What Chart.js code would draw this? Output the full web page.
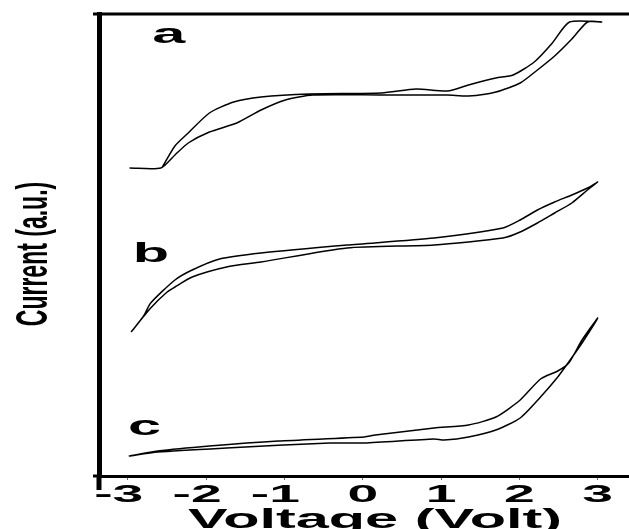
<!DOCTYPE html>
<html>
<head>
<meta charset="utf-8">
<title>Current vs Voltage</title>
<script src="https://cdn.jsdelivr.net/npm/chart.js@4.4.0/dist/chart.umd.min.js"></script>
<style>
  html, body { margin: 0; padding: 0; background: #fff; }
  canvas { display: block; }
</style>
</head>
<body>
<canvas id="chart" width="629" height="529"></canvas>
<script>
// Voltage axis ticks
const voltTicks = [-3, -2, -1, 0, 1, 2, 3];

// Curve a (one closed sweep)
const voltA = [-2.98, -2.58, -2.40, -2.23, -1.96, -1.61, -1.30, -0.99, -0.64, 0.24, 1.08, 1.35, 1.70, 2.01, 2.23, 2.45, 2.67, 2.87, 3.05,
               2.64, 2.41, 2.19, 1.92, 1.70, 1.35, 1.08, 0.68, 0.24, -0.68, -1.30, -1.65, -1.96, -2.23, -2.40, -2.56];
const currentA = [308, 308, 321, 333, 344, 353, 366, 376, 381, 381, 381, 380, 384, 393, 406, 420, 437, 454, 454,
                  454, 432, 414, 401, 398, 391, 385, 387, 383, 382, 379, 374, 363, 343, 330, 309];

// Curve b
const voltB = [-2.96, -2.80, -2.71, -2.40, -2.18, -1.83, -1.30, -0.20, 0.91, 1.79, 2.01, 2.23, 2.45, 2.67, 2.87, 3.00,
               2.87, 2.67, 2.45, 2.23, 2.01, 1.79, 0.91, -0.20, -1.30, -1.74, -2.18, -2.40, -2.50, -2.71, -2.96];
const currentB = [144, 160, 173, 196, 206, 217, 223, 231, 238, 248, 256, 266, 274, 281, 288, 294,
                  286, 273, 263, 253, 244, 238, 231, 228, 214, 209, 199, 189, 184, 168, 144];

// Curve c
const voltC = [-2.99, -2.62, -1.96, -1.08, 0.02, 0.16, 0.91, 1.35, 1.70, 2.01, 2.27, 2.49, 2.63, 2.80, 3.00,
               2.80, 2.63, 2.49, 2.27, 2.01, 1.70, 1.35, 1.04, 0.91, 0.02, -0.42, -1.74, -2.62, -2.99];
const currentC = [20, 25, 30, 35, 39, 41, 48, 51, 59, 76, 97, 105, 113, 136, 158,
                  133, 114, 99, 79, 58, 46, 39, 36, 37, 33, 33, 28, 24, 20];

// Panel letters and where they sit (data coords)
const panelLabels = ['a', 'b', 'c'];
const panelVolt = [-2.69, -2.94, -3.0];
const panelCurrent = [433, 214, 41];

const xTitle = 'Voltage (Volt)';
const yTitle = 'Current (a.u.)';

const FONT = "'Liberation Sans', Arial, sans-serif";

function toPoints(xs, ys) {
  return xs.map((x, i) => ({ x: x, y: ys[i] }));
}

// draw text stretched horizontally (the figure is stretched sideways)
function wideText(ctx, text, x, y, sx, align) {
  ctx.save();
  ctx.translate(x, y);
  ctx.scale(sx, 1);
  ctx.textAlign = align || 'left';
  ctx.textBaseline = 'alphabetic';
  ctx.fillText(text, 0, 0);
  ctx.restore();
}

const figureText = {
  id: 'figureText',
  afterDraw(chart) {
    const ctx = chart.ctx;
    const xs = chart.scales.x;
    const ys = chart.scales.y;
    const area = chart.chartArea;

    ctx.save();
    ctx.fillStyle = '#000';
    ctx.strokeStyle = '#000';

    // frame bits: top line, small overhangs at the corner
    ctx.lineWidth = 3;
    ctx.beginPath();
    ctx.moveTo(93, area.top);
    ctx.lineTo(area.right, area.top);
    ctx.moveTo(93, area.bottom);
    ctx.lineTo(area.left, area.bottom);
    ctx.stroke();
    ctx.lineWidth = 5;
    ctx.beginPath();
    ctx.moveTo(area.left, area.bottom);
    ctx.lineTo(area.left, 490);
    ctx.stroke();

    // tick labels, digit centred on the tick
    const sTick = 2.3;
    ctx.font = 'bold 24px ' + FONT;
    voltTicks.forEach(v => {
      const label = String(v);
      const px = xs.getPixelForValue(v);
      const w = ctx.measureText(label).width;
      const dw = ctx.measureText(label.slice(-1)).width;
      const left = px - dw * sTick / 2 - (w - dw) * sTick;
      wideText(ctx, label, left, 502, sTick, 'left');
    });

    // x title
    ctx.font = 'bold 27px ' + FONT;
    wideText(ctx, xTitle, 375, 528, 2.2, 'center');

    // panel letters
    panelLabels.forEach((t, i) => {
      wideText(ctx, t, xs.getPixelForValue(panelVolt[i]), ys.getPixelForValue(panelCurrent[i]), 2.2, 'left');
    });

    // y title, rotated
    ctx.font = 'bold 23px ' + FONT;
    ctx.save();
    ctx.translate(47, 254);
    ctx.scale(1.94, 1);
    ctx.rotate(-Math.PI / 2);
    ctx.textAlign = 'center';
    ctx.textBaseline = 'alphabetic';
    ctx.fillText(yTitle, 0, 0);
    ctx.restore();

    ctx.restore();
  }
};

const lineStyle = {
  showLine: true,
  borderColor: '#000',
  borderWidth: 1.5,
  pointRadius: 0,
  tension: 0.22,
  fill: false
};

new Chart(document.getElementById('chart'), {
  type: 'scatter',
  data: {
    datasets: [
      Object.assign({ label: 'a', data: toPoints(voltA, currentA) }, lineStyle),
      Object.assign({ label: 'b', data: toPoints(voltB, currentB) }, lineStyle),
      Object.assign({ label: 'c', data: toPoints(voltC, currentC) }, lineStyle)
    ]
  },
  options: {
    responsive: false,
    animation: false,
    layout: { padding: { top: 14, left: 0, right: 0, bottom: 0 } },
    plugins: {
      legend: { display: false },
      tooltip: { enabled: false }
    },
    scales: {
      x: {
        type: 'linear',
        min: -3.37,
        max: 3.4,
        afterBuildTicks: s => { s.ticks = voltTicks.map(v => ({ value: v })); },
        afterFit: s => { s.height = 53; },
        ticks: { display: false },
        grid: { display: true, drawOnChartArea: false, drawTicks: true, tickLength: 4, color: '#666', lineWidth: 1 },
        border: { display: true, color: '#000', width: 3 }
      },
      y: {
        type: 'linear',
        min: 0,
        max: 462,
        afterFit: s => { s.width = 99; },
        ticks: { display: false },
        grid: { display: false },
        border: { display: true, color: '#000', width: 5 }
      }
    }
  },
  plugins: [figureText]
});
</script>
</body>
</html>
